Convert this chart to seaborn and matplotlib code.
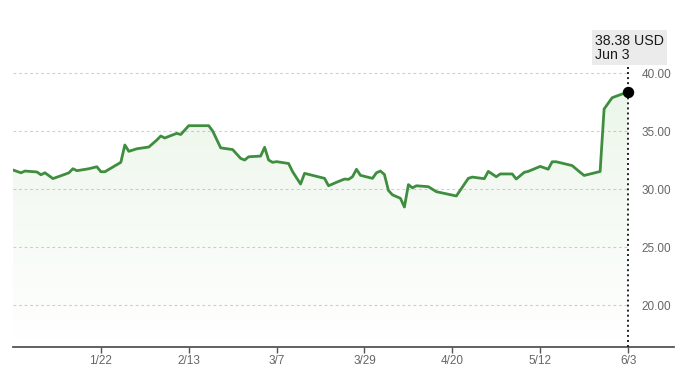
import numpy as np
import pandas as pd
import matplotlib
matplotlib.use("Agg")
import matplotlib.pyplot as plt
import matplotlib.dates as mdates
import matplotlib.colors as mcolors
from matplotlib.patches import Polygon
import seaborn as sns

# ---------------- data ----------------
dates = [
    "2024-12-31", "2025-01-02", "2025-01-03", "2025-01-06", "2025-01-07", "2025-01-08",
    "2025-01-10", "2025-01-13", "2025-01-14", "2025-01-15", "2025-01-16", "2025-01-19",
    "2025-01-21", "2025-01-22", "2025-01-23", "2025-01-27", "2025-01-28", "2025-01-29",
    "2025-01-31", "2025-02-03", "2025-02-05", "2025-02-06", "2025-02-07", "2025-02-10",
    "2025-02-11", "2025-02-13", "2025-02-18", "2025-02-19", "2025-02-21", "2025-02-24",
    "2025-02-26", "2025-02-27", "2025-02-28", "2025-03-03", "2025-03-04", "2025-03-05",
    "2025-03-06", "2025-03-07", "2025-03-10", "2025-03-11", "2025-03-13", "2025-03-14",
    "2025-03-19", "2025-03-20", "2025-03-22", "2025-03-24", "2025-03-25", "2025-03-26",
    "2025-03-27", "2025-03-28", "2025-03-31", "2025-04-01", "2025-04-02", "2025-04-03",
    "2025-04-04", "2025-04-05", "2025-04-07", "2025-04-08", "2025-04-09", "2025-04-10",
    "2025-04-11", "2025-04-14", "2025-04-16", "2025-04-21", "2025-04-24", "2025-04-25",
    "2025-04-28", "2025-04-29", "2025-05-01", "2025-05-02", "2025-05-05", "2025-05-06",
    "2025-05-08", "2025-05-09", "2025-05-12", "2025-05-14", "2025-05-15", "2025-05-16",
    "2025-05-20", "2025-05-22", "2025-05-23", "2025-05-27", "2025-05-28", "2025-05-30",
    "2025-06-03",
]
prices = [
    31.64, 31.40, 31.55, 31.47, 31.23, 31.40,
    30.90, 31.27, 31.40, 31.75, 31.58, 31.75,
    31.92, 31.49, 31.49, 32.30, 33.80, 33.25,
    33.47, 33.62, 34.22, 34.57, 34.40, 34.80,
    34.70, 35.46, 35.46, 35.00, 33.55, 33.40,
    32.64, 32.50, 32.78, 32.84, 33.60, 32.50,
    32.30, 32.36, 32.20, 31.50, 30.43, 31.35,
    30.92, 30.28, 30.58, 30.86, 30.83, 31.06,
    31.70, 31.18, 30.92, 31.40, 31.55, 31.25,
    29.88, 29.50, 29.20, 28.45, 30.38, 30.10,
    30.28, 30.20, 29.77, 29.40, 30.92, 31.03,
    30.89, 31.52, 31.06, 31.30, 31.30, 30.86,
    31.44, 31.52, 31.95, 31.71, 32.35, 32.35,
    32.02, 31.44, 31.17, 31.51, 36.90, 37.87,
    38.38,
]
tick_dates = ["2025-01-22", "2025-02-13", "2025-03-07", "2025-03-29",
              "2025-04-20", "2025-05-12", "2025-06-03"]
tick_labels = ["1/22", "2/13", "3/7", "3/29", "4/20", "5/12", "6/3"]
y_ticks = [20, 25, 30, 35, 40]
price_label = "38.38 USD"
date_label = "Jun 3"

# ---------------- style ----------------
sns.set_theme(style="white")
plt.rcParams["font.family"] = ["Liberation Sans", "DejaVu Sans"]

LINE = "#3f8e3f"
df = pd.DataFrame({"date": pd.to_datetime(dates), "price": prices})

fig = plt.figure(figsize=(6.8, 3.7), dpi=100)
ax = fig.add_axes([13 / 680, 23 / 370, 661 / 680, 317 / 370])

sns.lineplot(data=df, x="date", y="price", ax=ax, color=LINE, lw=2.0,
             zorder=4, solid_joinstyle="round")

ylo, yhi = 16.38, 43.71
xn = mdates.date2num(df["date"])
x_left = xn[0]
x_right = xn[-1] + 11.5

# gradient fill under line
verts = [(xn[0], ylo)] + list(zip(xn, df["price"])) + [(xn[-1], ylo)]
poly = Polygon(verts, closed=True, facecolor="none", edgecolor="none")
ax.add_patch(poly)
grad = np.zeros((256, 1, 4))
grad[..., :3] = mcolors.to_rgb("#62b552")
grad[..., 3] = np.linspace(0.12, 0.0, 256)[:, None]
im = ax.imshow(grad, aspect="auto", origin="upper",
               extent=[xn[0], xn[-1], ylo, df["price"].max()], zorder=1)
im.set_clip_path(poly)

# dashed grid lines
ax.hlines(y_ticks, xn[0], xn[-1], colors="#cfcfcf",
          linestyles=(0, (2.5, 2.5)), lw=0.8, zorder=0)

# vertical dotted marker line
ax.axvline(xn[-1], color="#222222", ls=(0, (1, 1.6)), lw=1.4, zorder=3)

# end point
ax.scatter([xn[-1]], [prices[-1]], s=52, color="black", zorder=6)

# annotation
ax.annotate(f"{price_label}\n{date_label}", xy=(xn[-1], prices[-1]),
            xytext=(-33, 30), textcoords="offset pixels",
            ha="left", va="bottom", fontsize=10.2, color="#1a1a1a",
            linespacing=1.02,
            bbox=dict(boxstyle="square,pad=0.22", fc="#ebebeb", ec="none"),
            zorder=7)

ax.set_xlim(x_left, x_right)
ax.set_ylim(ylo, yhi)

# axes
sns.despine(ax=ax, left=True, right=True, top=True)
ax.spines["bottom"].set_color("#555555")
ax.spines["bottom"].set_linewidth(1.3)

ax.set_xticks(pd.to_datetime(tick_dates))
ax.set_xticklabels(tick_labels)
ax.tick_params(axis="x", bottom=True, length=4, width=1, color="#555555",
               labelsize=8.5, labelcolor="#666666", pad=2)

ax.set_yticks(y_ticks)
ax.set_yticklabels([f"{v:.2f}" for v in y_ticks])
ax.yaxis.tick_right()
ax.tick_params(axis="y", length=0, pad=-2, labelsize=8.5, labelcolor="#666666")
for t in ax.get_yticklabels():
    t.set_ha("right")

ax.set_xlabel("")
ax.set_ylabel("")
ax.grid(False)

fig.savefig("out.png", dpi=100, facecolor="white")
